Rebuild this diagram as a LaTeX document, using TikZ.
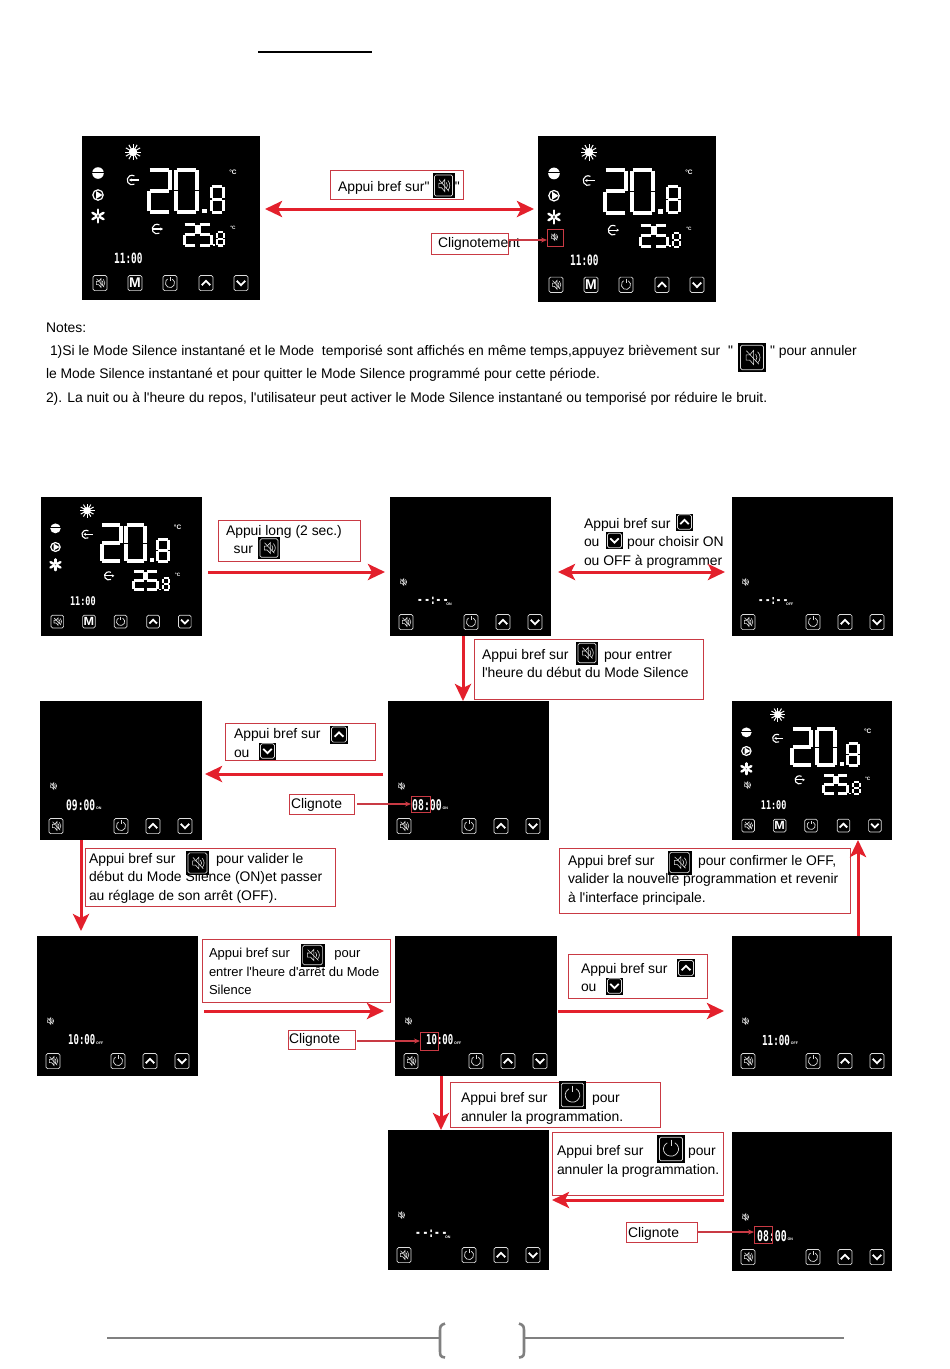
\documentclass[tikz,border=0pt]{standalone}
\usepackage{fontspec}
\setmainfont[Ligatures=TeXOff]{Liberation Sans}
\newfontfamily\lcdfont[Ligatures=TeXOff]{DejaVu Sans Mono}
\usetikzlibrary{arrows.meta,calc}
\definecolor{redarrow}{HTML}{E3202C}
\definecolor{redbox}{HTML}{C93A44}
\definecolor{btngray}{HTML}{DDDDDD}
\definecolor{footgray}{HTML}{808080}
\tikzset{
 screen/.style={fill=black,draw=none,inner sep=0pt,outer sep=0pt},
 callout/.style={draw=redbox,line width=.8pt,fill=white,inner sep=0pt,outer sep=0pt},
 blink/.style={draw=redbox,line width=.9pt,inner sep=0pt,outer sep=0pt},
 textline/.style={inner sep=0pt,outer sep=0pt,anchor=north west,align=left,yshift=-3pt,font=\fontsize{13.9}{18.6}\selectfont},
 bigarrow/.style={draw=redarrow,line width=3pt,-{Stealth[length=17pt,width=16pt,inset=4pt]}},
 bothway/.style={draw=redarrow,line width=3pt,{Stealth[length=17pt,width=16pt,inset=4pt]}-{Stealth[length=17pt,width=16pt,inset=4pt]}},
 thinarrow/.style={draw=redbox,line width=1.1pt,-{Stealth[length=6pt,width=5pt]}},
 lcd/.style={draw=white,line width=\lcdw,line cap=butt},
 ico/.style={draw=btngray,line width=.7pt},
 foot/.style={draw=footgray,line width=2pt},
}
\newlength{\lcdw}
% seven-segment digit
\expandafter\def\csname sega\endcsname{(0,0)--(1,0)}
\expandafter\def\csname segb\endcsname{(1,0)--(1,.5)}
\expandafter\def\csname segc\endcsname{(1,.5)--(1,1)}
\expandafter\def\csname segd\endcsname{(1,1)--(0,1)}
\expandafter\def\csname sege\endcsname{(0,1)--(0,.5)}
\expandafter\def\csname segf\endcsname{(0,.5)--(0,0)}
\expandafter\def\csname segg\endcsname{(0,.5)--(1,.5)}
\newcommand\segdigit[6]{% x y w h lw segments
 \setlength{\lcdw}{#5pt}%
 \begin{scope}[shift={(#1,#2)},xscale=#3,yscale=#4]
  \foreach \s in {#6}{\draw[lcd,shorten >=.6pt,shorten <=.6pt] \csname seg\s\endcsname;}
 \end{scope}}
% button glyphs, centred on 0,0, frame half-size 7.5
\newcommand\glyphspk{%
 \draw[ico,line width=.6pt] (-3.6,-1.6)--(-1.4,-1.6)--(1,-4.4)--(1,4.4)--(-1.4,1.6)--(-3.6,1.6)--cycle;
 \draw[ico,line width=.6pt] (2.2,-2.2) arc (-40:40:3.4);
 \draw[ico,line width=.6pt] (3.4,-3.6) arc (-45:45:5);
 \draw[ico,line width=.6pt] (-3.4,-4.2)--(4.2,4.2);}
\newcommand\glyphframe{\draw[ico,rounded corners=1.6pt] (-7,-7.6) rectangle (7,7.6);}
\newcommand\glyphpow{\draw[ico,line width=.7pt] (-60:4.6) arc (-60:240:4.6);\draw[ico,line width=.7pt] (0,-6)--(0,-2);}
\newcommand\glyphup{\draw[ico,draw=white,line width=1.8pt] (-4.2,2.2)--(0,-2.2)--(4.2,2.2);}
\newcommand\glyphdown{\draw[ico,draw=white,line width=1.8pt] (-4.2,-2.2)--(0,2.2)--(4.2,-2.2);}
\newcommand\glyphM{\node[inner sep=0pt,text=white,transform shape,font=\fontsize{14}{14}\bfseries\selectfont] at (0,0) {M};}
\newcommand\btn[3]{\begin{scope}[shift={(#1,#2)}]\glyphframe #3\end{scope}}
% inline button picture: black tile with a glyph, on top of a callout
\newcommand\tile[5]{% cx cy w h glyph
 \fill[black] (#1-#3/2,#2-#4/2) rectangle (#1+#3/2,#2+#4/2);
 \begin{scope}[shift={(#1,#2)},xscale=#3/17,yscale=#4/18]\glyphframe #5\end{scope}}
% time read-out on a display
\newcommand\readout[5]{% x y time suffix size
 \node[inner sep=0pt,anchor=west,text=white,yscale=1.5,transform shape,font=\lcdfont\bfseries\fontsize{#5}{#5}\selectfont] at (#1,#2) {#3};
 \node[inner sep=0pt,anchor=south west,text=white,font=\fontsize{3.6}{3.6}\bfseries\selectfont] at (#1+#5*3+1,#2+5) {#4};}
% full home display
\newcommand\homedisplay[5]{% name x0 y0 x1 y1
 \node[screen,anchor=north west,minimum width={(#4-#2)*1pt},minimum height={(#5-#3)*1pt}] (#1) at (#2,#3) {};
 \begin{scope}[shift={(#2,#3)},xscale={(#4-#2)/178},yscale={(#5-#3)/164}]
  % sun
  \fill[white] (51,16) circle (4.2);
  \foreach \a in {0,30,...,330}{\draw[white,line width=1pt] (51,16)++(\a:3)--++(\a:5.2);}
  % mode marks
  \fill[white] (16,37) circle (5.8);\fill[black] (9,35.8) rectangle (23,37);
  \draw[white,line width=1.2pt] (16,59) circle (5.2);\fill[white] (14,55)--(20.5,59)--(14,63)--cycle;
  \foreach \a in {30,90,...,330}{\draw[white,line width=2.4pt,line cap=round] (16,80)++(\a:1.8)--++(\a:4.6);}
  % in / out marks
  \draw[white,line width=1.1pt] (52.4,48.2) arc (60:300:4.8);\draw[white,line width=1.1pt,-{Stealth[length=2.5pt,width=3pt]}] (57,44)--(47,44);
  \draw[white,line width=1.1pt] (77.4,97.2) arc (60:300:4.8);\draw[white,line width=1.1pt,-{Stealth[length=2.5pt,width=3pt]}] (70,93)--(81,93);
  % set point 20.8
  \segdigit{67}{33.5}{21}{42.5}{4}{a,b,g,e,d}
  \segdigit{94}{33.5}{21}{42.5}{4}{a,b,c,d,e,f}
  \fill[white] (120,72.5) rectangle (124.5,77);
  \segdigit{129}{50}{12}{26}{3}{a,b,c,d,e,f,g}
  % measured 25.8
  \segdigit{102}{88}{12}{21.5}{3}{a,b,g,e,d}
  \segdigit{117}{88}{12}{21.5}{3}{a,f,g,c,d}
  \fill[white] (130.5,108) rectangle (132.5,110);
  \segdigit{135}{96}{7}{13.5}{2.1}{a,b,c,d,e,f,g}
  \node[inner sep=0pt,text=white,font=\fontsize{6.5}{6.5}\bfseries\selectfont] at (151,36) {°C};
  \node[inner sep=0pt,text=white,font=\fontsize{4.8}{4.8}\bfseries\selectfont] at (151,92) {°C};
  \node[inner sep=0pt,anchor=west,text=white,yscale=1.5,transform shape,font=\lcdfont\bfseries\fontsize{9.4}{9.4}\selectfont] at (32,122.5) {11:00};
  \btn{18}{147}{\glyphspk}
  \btn{53}{147}{\glyphM}
  \btn{88}{147}{\glyphpow}
  \btn{124}{147}{\glyphup}
  \btn{159}{147}{\glyphdown}
 \end{scope}}
% programming display
\newcommand\progdisplay[9]{% name x0 y0 x1 y1 time suffix timex size
 \node[screen,anchor=north west,minimum width={(#4-#2)*1pt},minimum height={(#5-#3)*1pt}] (#1) at (#2,#3) {};
 \begin{scope}[shift={(#2,#3)}]
  \begin{scope}[shift={(13,85)},scale=.75]\glyphspk\end{scope}
  \readout{#8}{104}{#6}{#7}{#9}
  \btn{16}{125}{\glyphspk}
  \btn{81}{125}{\glyphpow}
  \btn{113}{125}{\glyphup}
  \btn{145}{125}{\glyphdown}
 \end{scope}}
\newcommand\callbox[5]{\node[callout,anchor=north west,minimum width={(#4-#2)*1pt},minimum height={(#5-#3)*1pt}] (#1) at (#2,#3) {};}
\begin{document}
\begin{tikzpicture}[x=1pt,y=-1pt]
\useasboundingbox (0,0) rectangle (950,1369);
\fill[white] (0,0) rectangle (950,1369);
% heading rule
\coordinate (ruleL) at (258,52); \coordinate (ruleR) at (372,52);
\draw[black,line width=1.3pt] (ruleL)--(ruleR);

% top pair
\homedisplay{scrA}{82}{136}{260}{300}
\homedisplay{scrB}{538}{136}{716}{302}
\begin{scope}[shift={(554,237)},scale=.75]\glyphspk\end{scope}
\node[blink,minimum width=16pt,minimum height=17pt] (blinkB) at (555,237.5) {};
\callbox{boxA}{330}{170}{463}{199}
\node[textline] (boxAt) at (338,178) {Appui bref sur"\hspace{25.5pt}"};
\tile{443.5}{185.5}{22}{25}{\glyphspk}
\callbox{boxB}{431}{233}{508}{254}
\node[textline] (boxBt) at (438,234) {Clignotement};
\coordinate (rowAB) at (0,209);
\coordinate (rowBlink) at (0,240);
\draw[bothway] ([xshift=5pt]scrA.east |- rowAB) -- ([xshift=-4pt]scrB.west |- rowAB);
\draw[thinarrow,line width=1.4pt] (boxB.east |- rowBlink) -- (blinkB.west |- rowBlink);

% notes
\node[textline] (note0) at (46,319.5) {Notes:};
\node[textline] (note1) at (50,342.5) {1)Si le Mode Silence instantané et le Mode\ \ temporisé sont affichés en même temps,appuyez brièvement sur\ \ "};
\tile{752}{357.5}{28}{29}{\glyphspk}
\node[textline] (note1b) at (770,342.5) {" pour annuler};
\node[textline] (note2) at (46,365.5) {le Mode Silence instantané et pour quitter le Mode Silence programmé pour cette période.};
\node[textline] (note3) at (46,389.5) {2). La nuit ou à l'heure du repos, l'utilisateur peut activer le Mode Silence instantané ou temporisé por réduire le bruit.};

% row 1
\homedisplay{scrC}{41}{497}{202}{636}
\progdisplay{scrD}{390}{497}{551}{636}{-\,-:-\,-}{ON}{27}{9.4}
\progdisplay{scrE}{732}{497}{893}{636}{-\,-:-\,-}{OFF}{26}{9}
\callbox{boxC}{218}{520}{360}{561}
\node[textline] (boxCt) at (226,522) {Appui long (2 sec.)\\\ \ sur};
\tile{269}{548}{22}{22}{\glyphspk}
\node[textline] (boxDt) at (584,515) {Appui bref sur\\ou\hspace{27.6pt}pour choisir ON\\ou OFF à programmer};
\tile{684.5}{522}{17}{17}{\glyphup}
\tile{614.5}{540.5}{17}{17}{\glyphdown}
\coordinate (rowCD) at (0,572);
\draw[bigarrow] ([xshift=6pt]scrC.east |- rowCD) -- ([xshift=-5pt]scrD.west |- rowCD);
\draw[bothway] ([xshift=7pt]scrD.east |- rowCD) -- ([xshift=-7pt]scrE.west |- rowCD);

% row 2
\callbox{boxE}{474}{639}{703}{699}
\node[textline] (boxEt) at (482,646) {Appui bref sur\hspace{35.5pt}pour entrer\\l'heure du début du Mode Silence};
\tile{587}{653}{22}{23}{\glyphspk}
\progdisplay{scrF}{40}{701}{202}{840}{09:00}{ON}{26}{9.6}
\progdisplay{scrG}{388}{701}{549}{840}{08:00}{ON}{24}{9.8}
\node[blink,minimum width=19pt,minimum height=16pt] (blinkG) at (420.5,804) {};
\homedisplay{scrH}{732}{701}{892}{840}
\begin{scope}[shift={(747,785)},scale=.75]\glyphspk\end{scope}
\callbox{boxF}{225}{723}{375}{760}
\node[textline] (boxFt) at (234,725.5) {Appui bref sur\\ou};
\tile{339}{734.5}{18}{18}{\glyphup}
\tile{267.5}{751}{17}{17}{\glyphdown}
\callbox{clgG}{289}{794}{354}{814}
\node[textline] (clgGt) at (291,795.5) {Clignote};
\coordinate (colDG) at (463,0);
\coordinate (rowFG) at (0,774);
\draw[bigarrow] (colDG |- scrD.south) -- (colDG |- scrG.north);
\draw[bigarrow] ([xshift=-5pt]scrG.west |- rowFG) -- ([xshift=3pt]scrF.east |- rowFG);
\draw[thinarrow] ([xshift=3pt]clgG.east) -- (blinkG.west);

% row 3
\callbox{boxG}{85}{848}{335}{906}
\node[textline] (boxGt) at (89,850) {Appui bref sur\hspace{40.5pt}pour valider le\\début du Mode Silence (ON)et passer\\au réglage de son arrêt (OFF).};
\tile{197.5}{863}{23}{24}{\glyphspk}
\callbox{boxH}{559}{848}{850}{913}
\node[textline] (boxHt) at (568,852) {Appui bref sur\hspace{43.5pt}pour confirmer le OFF,\\valider la nouvelle programmation et revenir\\à l'interface principale.};
\tile{679.5}{862.5}{24}{24}{\glyphspk}
\coordinate (colFI) at (81,0);
\progdisplay{scrI}{37}{936}{198}{1076}{10:00}{OFF}{31}{9}
\progdisplay{scrJ}{395}{936}{557}{1076}{10:00}{OFF}{31}{9}
\progdisplay{scrK}{732}{936}{892}{1076}{11:00}{OFF}{30}{9.2}
\node[blink,minimum width=18pt,minimum height=18pt] (blinkJ) at (429,1041) {};
\draw[bigarrow] (colFI |- scrF.south) -- ([yshift=5pt]colFI |- scrI.north);
\callbox{boxI}{202}{939}{390}{1002}
\node[textline,font=\fontsize{13}{18.4}\selectfont] (boxIt) at (209,945.5) {Appui bref sur\hspace{44.5pt}pour\\entrer l'heure d'arrêt du Mode\\Silence};
\tile{312.5}{955}{24}{23}{\glyphspk}
\callbox{boxJ}{568}{954}{707}{998}
\node[textline] (boxJt) at (581,960) {Appui bref sur\\ou};
\tile{686}{968}{18}{18}{\glyphup}
\tile{614.5}{986}{17}{17}{\glyphdown}
\callbox{clgJ}{288}{1030}{355}{1049}
\node[textline] (clgJt) at (289,1030) {Clignote};
\coordinate (rowIJ) at (0,1011);
\coordinate (colKH) at (858,0);
\draw[bigarrow] ([xshift=6pt]scrI.east |- rowIJ) -- ([xshift=-11pt]scrJ.west |- rowIJ);
\draw[bigarrow] ([xshift=1pt]scrJ.east |- rowIJ) -- ([xshift=-8pt]scrK.west |- rowIJ);
\draw[bigarrow] (colKH |- scrK.north) -- (colKH |- scrH.south);
\draw[thinarrow] ([xshift=2pt]clgJ.east |- blinkJ.west) -- (blinkJ.west);

% row 4
\progdisplay{scrL}{388}{1130}{549}{1270}{-\,-:-\,-}{ON}{27}{9.6}
\progdisplay{scrM}{732}{1132}{892}{1271}{08:00}{ON}{25}{9.8}
\node[blink,minimum width=18pt,minimum height=17pt] (blinkM) at (763,1234.5) {};
\callbox{boxK}{450}{1082}{660}{1127}
\node[textline] (boxKt) at (461,1089.5) {Appui bref sur\hspace{44.5pt}pour\\annuler la programmation.};
\tile{572.5}{1095}{27}{28}{\glyphpow}
\callbox{boxL}{552}{1132}{723}{1195}
\node[textline] (boxLt) at (557,1142.5) {Appui bref sur\hspace{44.5pt}pour\\annuler la programmation.};
\tile{671}{1149}{28}{28}{\glyphpow}
\callbox{clgM}{626}{1222}{697}{1242}
\node[textline] (clgMt) at (628,1224.5) {Clignote};
\coordinate (colJL) at (441,0);
\coordinate (rowML) at (0,1200);
\draw[bigarrow] (colJL |- scrJ.south) -- (colJL |- scrL.north);
\draw[bigarrow] ([xshift=-8pt]scrM.west |- rowML) -- ([xshift=3pt]scrL.east |- rowML);
\draw[thinarrow] (clgM.east) -- (clgM.east -| blinkM.west);

% footer
\coordinate (fa) at (107,1338); \coordinate (fb) at (439,1338);
\coordinate (fc) at (525,1338); \coordinate (fd) at (844,1338);
\draw[foot,line width=1.6pt] (fa)--(fb);
\draw[foot,line width=1.6pt] (fc)--(fd);
\draw[foot,line width=2.6pt] (445,1323.5) .. controls (440,1325) and (440,1327) .. (440,1332) -- (440,1350) .. controls (440,1355) and (440,1357) .. (445,1357.5);
\draw[foot,line width=2.6pt] (519,1323.5) .. controls (524,1325) and (524,1327) .. (524,1332) -- (524,1350) .. controls (524,1355) and (524,1357) .. (519,1357.5);
\end{tikzpicture}
\end{document}
